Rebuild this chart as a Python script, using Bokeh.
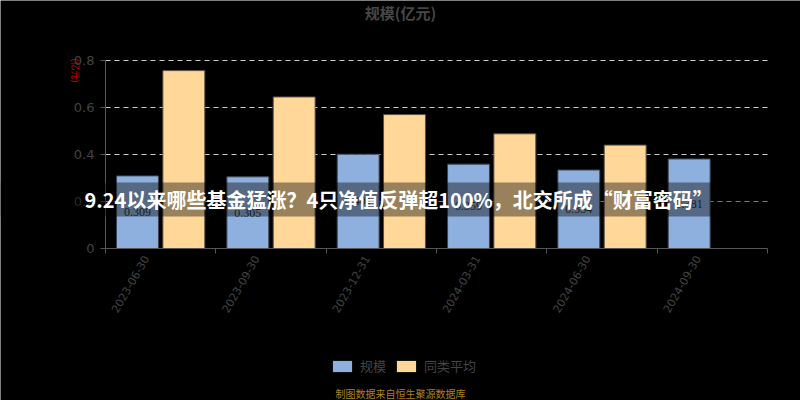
import math
from bokeh.plotting import figure
from bokeh.models import (ColumnDataSource, Range1d, FixedTicker, Label, LabelSet,
                          BoxAnnotation, Legend, LegendItem, LinearAxis, VBar)
from bokeh.transform import dodge
from bokeh.embed import file_html
from bokeh.resources import INLINE

# ---- data ----
dates = ["2023-06-30", "2023-09-30", "2023-12-31", "2024-03-31", "2024-06-30", "2024-09-30"]
scale = [0.309, 0.305, 0.401, 0.359, 0.334, 0.381]
peer_avg = [0.757, 0.645, 0.570, 0.488, 0.440, float("nan")]
y_ticks = [0, 0.2, 0.4, 0.6, 0.8]
title_text = "规模(亿元)"
unit_text = "(亿元)"
banner_text = "9.24以来哪些基金猛涨？4只净值反弹超100%，北交所成“财富密码”"
source_text = "制图数据来自恒生聚源数据库"

n = len(dates)
xs = [i + 0.5 for i in range(n)]
src = ColumnDataSource(dict(
    x=xs, scale=scale, peer=peer_avg,
    mid=[v / 2 for v in scale],
    lab=["%.3f" % v for v in scale],
))

CJK = "Noto Sans CJK SC"
W, H = 800, 400
# plot area in canvas pixels
FL, FR, FT, FB = 105, 767, 60, 248
xppu = (FR - FL) / n
yppu = (FB - FT) / y_ticks[-1]

p = figure(width=W, height=H, output_backend="svg", toolbar_location=None,
           x_range=Range1d(-FL / xppu, n + (W - FR) / xppu),
           y_range=Range1d(-(H - FB) / yppu, y_ticks[-1] + FT / yppu),
           x_axis_location=None, y_axis_location=None,
           min_border_left=0, min_border_right=0, min_border_top=0, min_border_bottom=0)
p.background_fill_color = "black"
p.border_fill_color = "black"
p.outline_line_color = None
p.xgrid.visible = False
p.ygrid.visible = False

BLUE, YELLOW = "#8eb0de", "#ffd899"

# dashed horizontal grid lines across the category extent
p.segment(x0=0, x1=n, y0=y_ticks[1:], y1=y_ticks[1:], line_color="#cccccc",
          line_dash="5 4", line_width=1)

r1 = p.vbar(x=dodge("x", -0.21, range=p.x_range), top="scale", width=0.38, source=src,
            fill_color=BLUE, line_color="#3c4654", line_width=1)
r2 = p.vbar(x=dodge("x", 0.21, range=p.x_range), top="peer", width=0.38, source=src,
            fill_color=YELLOW, line_color="#5a5040", line_width=1)

# legend swatch renderers (zero height, so nothing drawn in the plot)
extra = {"border_radius": 4} if "border_radius" in VBar.properties() else {}
lg1 = p.vbar(x="x", top=0, width=0.38, source=src, fill_color=BLUE, line_color=None, **extra)
lg2 = p.vbar(x="x", top=0, width=0.38, source=src, fill_color=YELLOW, line_color=None, **extra)

labels = LabelSet(x=dodge("x", -0.21, range=p.x_range), y="mid", text="lab", source=src,
                  text_align="center", text_baseline="middle", text_font_size="12px",
                  text_color="#333333", text_font="DejaVu Sans")
p.add_layout(labels)

# axes at fixed locations
xaxis = LinearAxis(fixed_location=0, bounds=(0, n))
xaxis.ticker = FixedTicker(ticks=[x - 0.13 for x in xs], minor_ticks=list(range(n + 1)))
xaxis.major_label_overrides = {x - 0.13: d for x, d in zip(xs, dates)}
xaxis.major_label_orientation = math.pi / 3
xaxis.major_tick_line_color = None
xaxis.minor_tick_line_color = "#555555"
xaxis.minor_tick_out = 5
xaxis.minor_tick_in = 0
xaxis.axis_line_color = "#555555"
xaxis.major_label_text_color = "#444444"
xaxis.major_label_text_font_size = "11px"
xaxis.major_label_text_font = "DejaVu Sans"
xaxis.major_label_standoff = 2
p.add_layout(xaxis, "below")

yaxis = LinearAxis(fixed_location=0, bounds=(0, y_ticks[-1]))
yaxis.ticker = FixedTicker(ticks=y_ticks, minor_ticks=[])
yaxis.major_label_overrides = {0: "0"}
yaxis.axis_line_color = "#555555"
yaxis.major_tick_line_color = "#555555"
yaxis.major_tick_out = 5
yaxis.major_tick_in = 0
yaxis.minor_tick_line_color = None
yaxis.major_label_text_color = "#444444"
yaxis.major_label_text_font_size = "13px"
yaxis.major_label_text_font = "DejaVu Sans"
yaxis.major_label_standoff = 6
p.add_layout(yaxis, "left")

# title and unit
p.add_layout(Label(x=400, y=H - 12, x_units="screen", y_units="screen", text=title_text,
                   text_align="center", text_baseline="middle", text_font=CJK,
                   text_font_style="bold", text_font_size="15px", text_color="#474747"))
p.add_layout(Label(x=75, y=H - 70, x_units="screen", y_units="screen", text=unit_text,
                   angle=-math.pi / 2, text_align="center", text_baseline="middle",
                   text_font=CJK, text_font_size="9px", text_color="#cc0000"))

# legend
legend = Legend(items=[LegendItem(label="规模", renderers=[lg1]),
                       LegendItem(label="同类平均", renderers=[lg2])],
                orientation="horizontal", location=(330, H - 375),
                background_fill_alpha=0, border_line_color=None,
                label_text_color="#444444", label_text_font=CJK, label_text_font_size="13px",
                glyph_width=24, glyph_height=14, label_standoff=6, spacing=8,
                padding=0, margin=0)
p.add_layout(legend, "center")

# source note
p.add_layout(Label(x=400, y=H - 393, x_units="screen", y_units="screen", text=source_text,
                   text_align="center", text_baseline="middle", text_font=CJK,
                   text_font_size="10px", text_color="#b08020"))

# banner overlay
p.add_layout(BoxAnnotation(bottom=H - 216, top=H - 182,
                           bottom_units="screen", top_units="screen",
                           fill_color="black", fill_alpha=0.4, line_color=None))
p.add_layout(Label(x=84, y=H - 199, x_units="screen", y_units="screen", text=banner_text,
                   text_align="left", text_baseline="middle", text_font=CJK,
                   text_font_style="bold", text_font_size="20px", text_color="white"))

open("out.html", "w").write(file_html(p, INLINE))
